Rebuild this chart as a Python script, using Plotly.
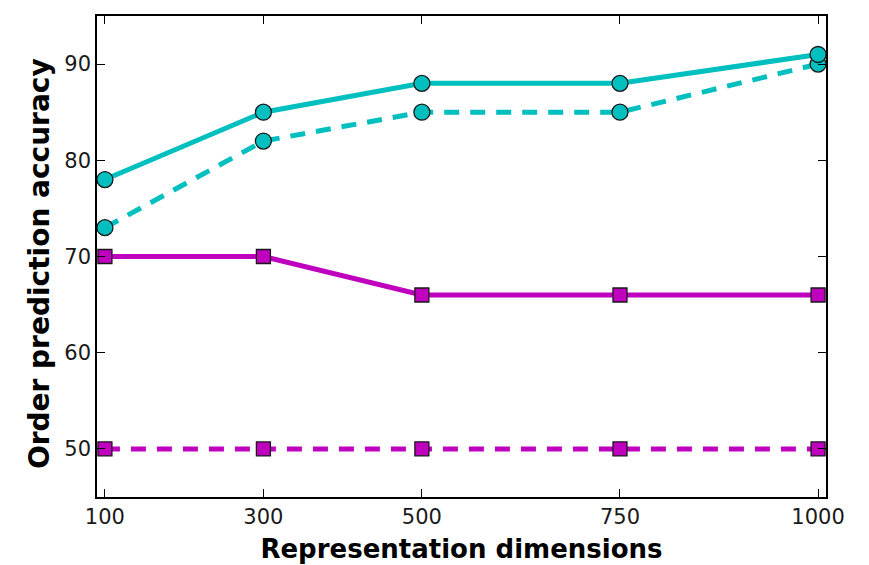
import plotly.graph_objects as go

dims = [100, 300, 500, 750, 1000]
cyan_solid = [78, 85, 88, 88, 91]
cyan_dashed = [73, 82, 85, 85, 90]
mag_solid = [70, 70, 66, 66, 66]
mag_dashed = [50, 50, 50, 50, 50]

CYAN = "#00BFBF"
MAG = "#BF00BF"

fig = go.Figure()
def add(y, color, dash, symbol, size):
    fig.add_trace(go.Scatter(
        x=dims, y=y, mode="lines+markers",
        line=dict(color=color, width=5, dash=dash),
        marker=dict(symbol=symbol, size=size, color=color,
                    line=dict(color="#1a1a1a", width=1.3)),
        cliponaxis=False, showlegend=False))

add(mag_dashed, MAG, "15px,11px", "square", 14)
add(mag_solid, MAG, "solid", "square", 14)
add(cyan_dashed, CYAN, "15px,11px", "circle", 16)
add(cyan_solid, CYAN, "solid", "circle", 16)

axis_common = dict(showline=True, linecolor="black", linewidth=1.5, mirror="ticks",
                   ticks="inside", ticklen=8, tickwidth=1.2, tickcolor="black",
                   showgrid=False, zeroline=False,
                   tickfont=dict(family="DejaVu Sans", size=21, color="#1a1a1a"))

fig.update_xaxes(range=[90, 1010], tickvals=dims, ticktext=[str(d) for d in dims],
                 title=dict(text="Representation dimensions",
                            font=dict(family="DejaVu Sans", size=26, color="black", weight="bold"),
                            standoff=12),
                 **axis_common)
fig.update_yaxes(range=[45, 95], tickvals=[50, 60, 70, 80, 90], **axis_common)

fig.add_annotation(text="<b>Order prediction accuracy</b>", textangle=-90,
                   xref="paper", yref="paper", x=-0.079, y=0.485,
                   xanchor="center", yanchor="middle", showarrow=False,
                   font=dict(family="DejaVu Sans", size=28, color="black"))

fig.update_layout(width=853, height=557, margin=dict(l=89, r=35, t=6, b=57),
                  plot_bgcolor="white", paper_bgcolor="white")

fig.write_html("out.html")
